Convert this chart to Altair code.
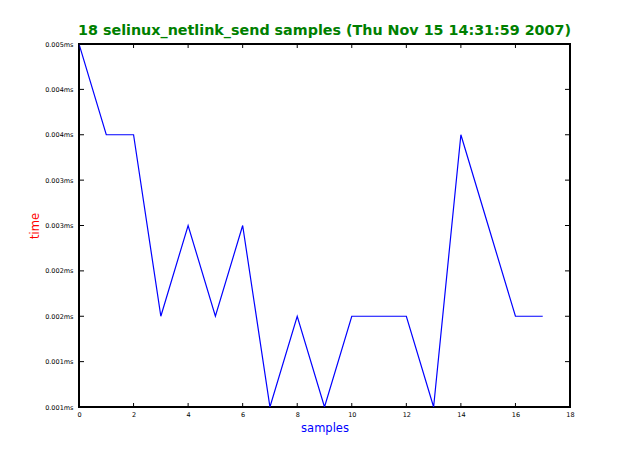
import altair as alt
import pandas as pd

samples = list(range(18))
times = [0.0050, 0.0040, 0.0040, 0.0020, 0.0030, 0.0020, 0.0030, 0.0010, 0.0020,
         0.0010, 0.0020, 0.0020, 0.0020, 0.0010, 0.0040, 0.0030, 0.0020, 0.0020]
x_ticks = [0, 2, 4, 6, 8, 10, 12, 14, 16, 18]
y_ticks = [0.0010, 0.0015, 0.0020, 0.0025, 0.0030, 0.0035, 0.0040, 0.0045, 0.0050]

W, H = 491, 363
df = pd.DataFrame({"samples": samples, "time": times})
xt = pd.DataFrame({"xt": x_ticks})
yt = pd.DataFrame({"yt": y_ticks})

xscale = alt.Scale(domain=[0, 18], nice=False, zero=False)
yscale = alt.Scale(domain=[0.001, 0.005], nice=False, zero=False)

xaxis = alt.Axis(values=x_ticks, ticks=False, domain=False, grid=False,
                 labelFontSize=6.5, labelFont="DejaVu Sans", labelColor="black",
                 labelPadding=4, labelFlush=False, title="samples", titleColor="blue",
                 titleFont="DejaVu Sans", titleFontSize=11.5, titleFontWeight="normal",
                 titlePadding=5)
yaxis = alt.Axis(values=y_ticks, ticks=False, domain=False, grid=False,
                 labelFontSize=6.5, labelFont="DejaVu Sans", labelColor="black",
                 labelPadding=6, labelFlush=False,
                 labelExpr="format(floor(datum.value*1000+0.0001)/1000, '.3f') + 'ms'",
                 title="time", titleColor="red", titleFont="DejaVu Sans",
                 titleFontSize=11.5, titleFontWeight="normal", titlePadding=4)

line = alt.Chart(df).mark_line(color="blue", strokeWidth=1.2, clip=True).encode(
    x=alt.X("samples:Q", scale=xscale, axis=xaxis),
    y=alt.Y("time:Q", scale=yscale, axis=yaxis),
)

tb = alt.Chart(xt).mark_rule(color="black", strokeWidth=1).encode(
    x=alt.X("xt:Q", scale=xscale), y=alt.value(H), y2=alt.value(H - 4))
tt = alt.Chart(xt).mark_rule(color="black", strokeWidth=1).encode(
    x=alt.X("xt:Q", scale=xscale), y=alt.value(0), y2=alt.value(4))
tl = alt.Chart(yt).mark_rule(color="black", strokeWidth=1).encode(
    y=alt.Y("yt:Q", scale=yscale), x=alt.value(0), x2=alt.value(5))
tr = alt.Chart(yt).mark_rule(color="black", strokeWidth=1).encode(
    y=alt.Y("yt:Q", scale=yscale), x=alt.value(W), x2=alt.value(W - 5))

chart = alt.layer(line, tb, tt, tl, tr).properties(
    width=W, height=H,
    title=alt.Title("18 selinux_netlink_send samples (Thu Nov 15 14:31:59 2007)",
                    color="green", font="DejaVu Sans", fontSize=14.3,
                    fontWeight="bold", anchor="middle", offset=3),
    autosize=alt.AutoSizeParams(type="none"),
    padding={"left": 71, "top": 36, "right": 40, "bottom": 40},
).configure(background="white").configure_view(stroke="black", strokeWidth=2)

chart.save("out.html", embed_options={"renderer": "svg", "actions": False})
